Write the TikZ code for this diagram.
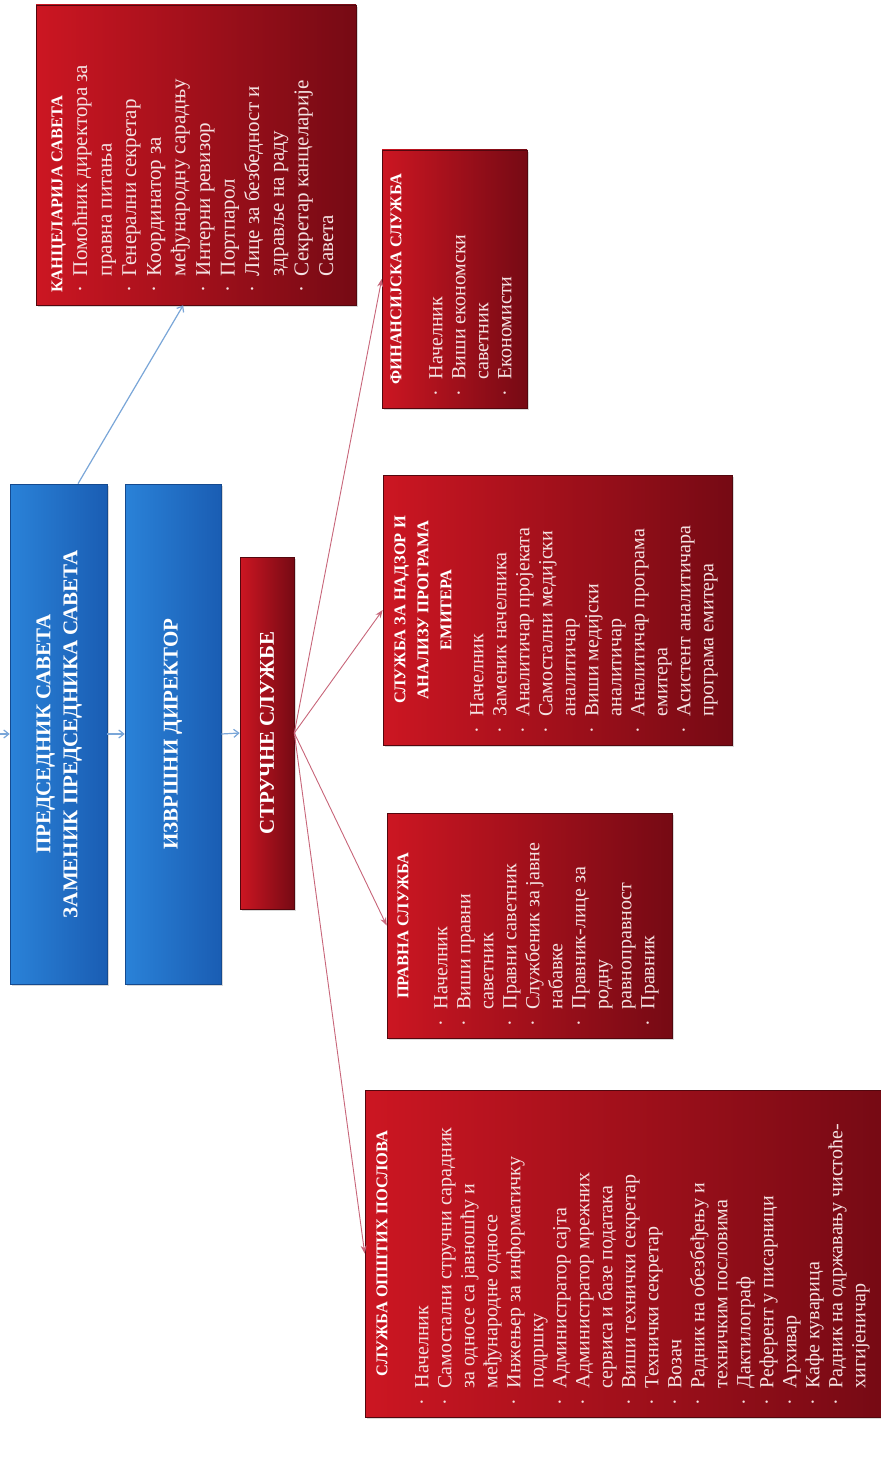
\documentclass[tikz,border=0pt]{standalone}
\usepackage{fontspec}
\setmainfont{Liberation Serif}
\usetikzlibrary{shadows,calc,arrows.meta}
\definecolor{redL}{HTML}{CC1622}
\definecolor{redD}{HTML}{760A14}
\definecolor{blueL}{HTML}{2A82D8}
\definecolor{blueD}{HTML}{1A5DB3}
\definecolor{txtR}{HTML}{F4E2E2}
\definecolor{lnR}{HTML}{C8667A}
\definecolor{lnB}{HTML}{7AA6D8}
\newcommand{\bluefont}{\fontsize{10.5}{13.5}\selectfont\bfseries}
% #1 width, #2 title, #3 gap, #4 items, #5 item font size, #6 baselineskip
\newcommand{\dept}[6]{\rotatebox{90}{\begin{minipage}{#1}\fontsize{#5}{#6}\selectfont
{\centering\fontsize{8.2}{#6}\selectfont\bfseries\color{white}#2\par}\vspace{#3}%
\begin{tabular}[t]{@{}l@{\hspace{5pt}}l@{}}#4\end{tabular}\end{minipage}}}
\newcommand{\bu}{·}
\tikzset{
  redbox/.style={rectangle, inner sep=0pt, left color=redL, right color=redD,
    draw=redD!70!black, line width=.3pt, text=txtR,
    drop shadow={shadow xshift=1.2pt, shadow yshift=-1.2pt, opacity=.3}},
  bluebox/.style={rectangle, inner sep=0pt, left color=blueL, right color=blueD,
    draw=blueD!80!black, line width=.3pt, text=white,
    drop shadow={shadow xshift=1.2pt, shadow yshift=-1.2pt, opacity=.3}},
  rline/.style={draw=lnR, line width=.45pt, -{Stealth[length=4pt,width=3pt]}},
  bline/.style={draw=lnB, line width=.6pt, -{Straight Barb[length=2.5pt,width=4pt]}},
}
\begin{document}
\begin{tikzpicture}[x=0.5pt,y=-0.5pt]
\fill[white] (0,0) rectangle (880,1465);
\useasboundingbox (0,0) rectangle (880,1465);

% left column
\node[bluebox, minimum width=48.5pt, minimum height=250pt] (p1) at (58.5,734)
  {\rotatebox{90}{\bluefont\begin{tabular}{@{}c@{}}ПРЕДСЕДНИК САВЕТА\\ЗАМЕНИК ПРЕДСЕДНИКА САВЕТА\end{tabular}}};
\node[bluebox, minimum width=48pt, minimum height=250pt] (p2) at (173,734)
  {\rotatebox{90}{\bluefont ИЗВРШНИ ДИРЕКТОР}};
\node[redbox, minimum width=27pt, minimum height=176pt] (str) at (267,733)
  {\rotatebox{90}{\bluefont\color{white}СТРУЧНЕ СЛУЖБЕ}};

% departments
\node[redbox, minimum width=160pt, minimum height=150pt] (kanc) at (196,155)
  {\dept{138pt}{\raggedright КАНЦЕЛАРИЈА САВЕТА}{0pt}{%
   \bu & Помоћник директора за\\ & правна питања\\
   \bu & Генерални секретар\\
   \bu & Координатор за\\ & међународну сарадњу\\
   \bu & Интерни ревизор\\
   \bu & Портпарол\\
   \bu & Лице за безбедност и\\ & здравље на раду\\
   \bu & Секретар канцеларије\\ & Савета}{10.5pt}{12.3pt}};

\node[redbox, minimum width=72.5pt, minimum height=129pt] (fin) at (454.5,279)
  {\dept{117pt}{ФИНАНСИЈСКА СЛУЖБА}{9pt}{%
   \bu & Начелник\\
   \bu & Виши економски\\ & саветник\\
   \bu & Економисти}{10pt}{11.5pt}};

\node[redbox, minimum width=174.5pt, minimum height=135pt] (nad) at (557.5,610)
  {\dept{123pt}{СЛУЖБА ЗА НАДЗОР И\\АНАЛИЗУ ПРОГРАМА\\ЕМИТЕРА}{4.5pt}{%
   \bu & Начелник\\
   \bu & Заменик начелника\\
   \bu & Аналитичар пројеката\\
   \bu & Самостални медијски\\ & аналитичар\\
   \bu & Виши медијски\\ & аналитичар\\
   \bu & Аналитичар програма\\ & емитера\\
   \bu & Асистент аналитичара\\ & програма емитера}{10pt}{11.5pt}};

\node[redbox, minimum width=142.5pt, minimum height=112.5pt] (prav) at (529.5,925.5)
  {\dept{100.5pt}{ПРАВНА СЛУЖБА}{8pt}{%
   \bu & Начелник\\
   \bu & Виши правни\\ & саветник\\
   \bu & Правни саветник\\
   \bu & Службеник за јавне\\ & набавке\\
   \bu & Правник-лице за\\ & родну\\ & равноправност\\
   \bu & Правник}{10pt}{11.5pt}};

\node[redbox, minimum width=259.5pt, minimum height=163.5pt] (opst) at (624.5,1253.5)
  {\dept{151.5pt}{СЛУЖБА ОПШТИХ ПОСЛОВА}{9pt}{%
   \bu & Начелник\\
   \bu & Самостални стручни сарадник\\ & за односе са јавношћу и\\ & међународне односе\\
   \bu & Инжењер за информатичку\\ & подршку\\
   \bu & Администратор сајта\\
   \bu & Администратор мрежних\\ & сервиса и базе података\\
   \bu & Виши технички секретар\\
   \bu & Технички секретар\\
   \bu & Возач\\
   \bu & Радник на обезбеђењу и\\ & техничким пословима\\
   \bu & Дактилограф\\
   \bu & Референт у писарници\\
   \bu & Архивар\\
   \bu & Кафе куварица\\
   \bu & Радник на одржавању чистоће-\\ & хигијеничар}{10pt}{11.5pt}};

% connectors
\coordinate (inL) at (-4,734);
\draw[bline] (inL) -- (p1.west);
\draw[bline] (p1.east) -- (p2.west);
\draw[bline] (p2.east) -- (str.west);
\draw[bline] ($(p1.north west)!0.7!(p1.north east)$) -- ($(kanc.south west)!0.46!(kanc.south east)$);
\draw[rline] (str.east) -- (fin.west);
\draw[rline] (str.east) -- (nad.west);
\draw[rline] (str.east) -- (prav.west);
\draw[rline] (str.east) -- (opst.west);
\end{tikzpicture}
\end{document}
